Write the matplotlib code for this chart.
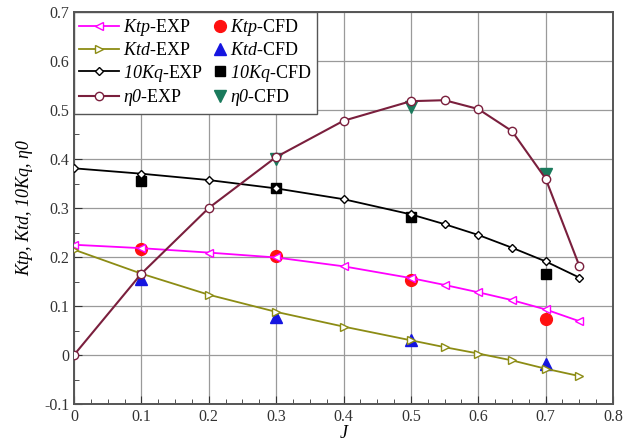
import matplotlib
matplotlib.use("Agg")
import matplotlib.pyplot as plt
from matplotlib.ticker import MultipleLocator, FuncFormatter
from matplotlib.legend_handler import HandlerLine2D

plt.rcParams['font.family'] = ['Liberation Serif', 'DejaVu Serif']
plt.rcParams['mathtext.fontset'] = 'custom'
plt.rcParams['mathtext.rm'] = 'Liberation Serif:italic'
plt.rcParams['mathtext.it'] = 'Liberation Serif:italic'

J_exp = [0.0, 0.1, 0.2, 0.3, 0.4, 0.5, 0.55, 0.6, 0.65, 0.7, 0.75]
ktp_exp = [0.225, 0.218, 0.209, 0.199, 0.181, 0.157, 0.143, 0.128, 0.112, 0.093, 0.069]
ktd_exp = [0.215, 0.166, 0.123, 0.088, 0.058, 0.030, 0.016, 0.003, -0.011, -0.028, -0.043]
kq10_exp = [0.381, 0.370, 0.357, 0.340, 0.318, 0.287, 0.267, 0.245, 0.219, 0.191, 0.158]
eta_exp = [0.0, 0.166, 0.300, 0.404, 0.478, 0.518, 0.520, 0.502, 0.457, 0.360, 0.182]

J_cfd = [0.1, 0.3, 0.5, 0.7]
ktp_cfd = [0.216, 0.203, 0.153, 0.074]
ktd_cfd = [0.155, 0.078, 0.030, -0.018]
kq10_cfd = [0.355, 0.340, 0.282, 0.165]
eta_cfd_J = [0.3, 0.5, 0.7]
eta_cfd = [0.399, 0.507, 0.370]


class RightMarkerHandler(HandlerLine2D):
    """Place the single legend marker near the right end of the handle box."""
    def get_xdata(self, legend, xdescent, ydescent, width, height, fontsize):
        m = -xdescent + width - 0.35 * fontsize
        return [m - 1, m + 1], [m]


fig = plt.figure(figsize=(6.38, 4.41), dpi=100)
ax = fig.add_axes([74/638, 37/441, 539/638, 392/441])

ms = 6
ax.plot(J_exp, ktp_exp, color='#ff00ff', lw=1.3, marker='<', ms=ms, mfc='white', mec='#ff00ff', label='$Ktp$-EXP', zorder=3)
ax.plot(J_exp, ktd_exp, color='#8c8c14', lw=1.3, marker='>', ms=ms, mfc='white', mec='#8c8c14', label='$Ktd$-EXP', zorder=3)
ax.plot(J_exp, kq10_exp, color='black', lw=1.3, marker='D', ms=4.5, mfc='white', mec='black', label='$10Kq$-EXP', zorder=3)
ax.plot(J_exp, eta_exp, color='#7a1f3d', lw=1.5, marker='o', ms=ms, mfc='white', mec='#7a1f3d', label='$\\eta0$-EXP', zorder=3)

c1, = ax.plot(J_cfd, ktp_cfd, ls='none', marker='o', ms=8.5, color='#ff1010', label='$Ktp$-CFD', zorder=2)
c2, = ax.plot(J_cfd, ktd_cfd, ls='none', marker='^', ms=8.5, color='#1515e0', label='$Ktd$-CFD', zorder=2)
c3, = ax.plot(J_cfd, kq10_cfd, ls='none', marker='s', ms=7, color='black', label='$10Kq$-CFD', zorder=2)
c4, = ax.plot(eta_cfd_J, eta_cfd, ls='none', marker='v', ms=8.5, color='#1a7a5c', label='$\\eta0$-CFD', zorder=2)

ax.set_xlim(0, 0.8)
ax.set_ylim(-0.1, 0.7)
ax.xaxis.set_major_locator(MultipleLocator(0.1))
ax.xaxis.set_minor_locator(MultipleLocator(0.025))
ax.yaxis.set_major_locator(MultipleLocator(0.1))
ax.yaxis.set_minor_locator(MultipleLocator(0.05))
fmt = FuncFormatter(lambda v, p: ('%g' % round(v, 3)))
ax.xaxis.set_major_formatter(fmt)
ax.yaxis.set_major_formatter(fmt)
ax.tick_params(which='both', direction='in', top=False, right=False, labelsize=11.5, colors='#333333')
ax.tick_params(which='major', length=6)
ax.tick_params(which='minor', length=3.5)
ax.grid(True, which='major', color='#9a9a9a', lw=0.9)
for s in ax.spines.values():
    s.set_color('#555555')
    s.set_linewidth(1.4)

ax.set_xlabel('J', fontsize=13, fontstyle='italic', labelpad=0)
ax.set_ylabel('Ktp, Ktd, 10Kq, η0', fontsize=13, fontstyle='italic', labelpad=8)

hm = {c: RightMarkerHandler(numpoints=1) for c in (c1, c2, c3, c4)}
leg = ax.legend(loc='upper left', ncol=2, fontsize=13, frameon=True, fancybox=False,
                edgecolor='#555555', framealpha=1, borderaxespad=0.0, handlelength=2.2,
                columnspacing=-0.9, handletextpad=0.2, labelspacing=0.2, borderpad=0.3,
                handler_map=hm)
leg.get_frame().set_linewidth(1.0)

fig.savefig('out.png', dpi=100)
